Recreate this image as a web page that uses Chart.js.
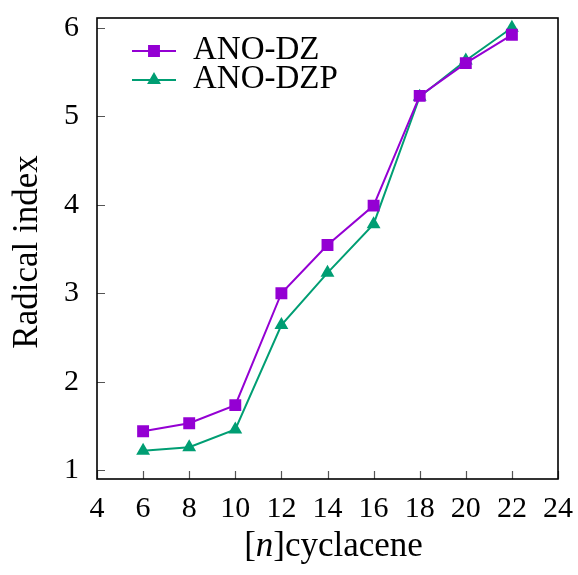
<!DOCTYPE html>
<html>
<head>
<meta charset="utf-8">
<script src="https://cdn.jsdelivr.net/npm/chart.js@4.4.0/dist/chart.umd.min.js"></script>
<style>
  html, body { margin: 0; padding: 0; background: #fff; }
  #wrap { width: 578px; height: 575px; }
</style>
</head>
<body>
<div id="wrap"><canvas id="radicalChart" width="578" height="575"></canvas></div>
<script>
var ringSize = [6, 8, 10, 12, 14, 16, 18, 20, 22];
var anoDZ = [1.44, 1.53, 1.735, 3.0, 3.545, 3.99, 5.23, 5.6, 5.92];
var anoDZP = [1.22, 1.26, 1.46, 2.64, 3.23, 3.78, 5.22, 5.63, 6.0];
var xTicks = [4, 6, 8, 10, 12, 14, 16, 18, 20, 22, 24];
var yTicks = [1, 2, 3, 4, 5, 6];

var serif = "'Liberation Serif', 'DejaVu Serif', serif";

function toPoints(xs, ys) {
  var out = [];
  for (var i in xs) {
    out.push({ x: xs[i], y: ys[i] });
  }
  return out;
}

// frame, inward ticks, legend and axis titles
var decorations = {
  id: "decorations",
  afterDraw: function (chart) {
    var ctx = chart.ctx;
    var a = chart.chartArea;
    var xs = chart.scales.x;
    var ys = chart.scales.y;
    ctx.save();

    ctx.strokeStyle = "#555";
    ctx.lineWidth = 1.2;
    ctx.beginPath();
    xTicks.forEach(function (t) {
      var px = Math.round(xs.getPixelForValue(t)) + 0.5;
      ctx.moveTo(px, a.bottom);
      ctx.lineTo(px, a.bottom - 8);
    });
    yTicks.forEach(function (t) {
      var py = Math.round(ys.getPixelForValue(t)) + 0.5;
      ctx.moveTo(a.left, py);
      ctx.lineTo(a.left + 8, py);
    });
    ctx.stroke();

    ctx.strokeStyle = "#000";
    ctx.lineWidth = 1.6;
    ctx.strokeRect(a.left, a.top, a.right - a.left, a.bottom - a.top);

    // legend
    var rows = [51, 80];
    chart.data.datasets.forEach(function (ds, i) {
      var y = rows[i];
      ctx.strokeStyle = ds.borderColor;
      ctx.lineWidth = 2;
      ctx.beginPath();
      ctx.moveTo(132, y);
      ctx.lineTo(176, y);
      ctx.stroke();
      ctx.fillStyle = ds.pointBackgroundColor;
      ctx.strokeStyle = ds.pointBackgroundColor;
      Chart.helpers.drawPoint(ctx, { pointStyle: ds.pointStyle, radius: ds.pointRadius, rotation: 0, borderWidth: 1 }, 154, y);
      ctx.fillStyle = "#000";
      ctx.font = "33px " + serif;
      ctx.textAlign = "left";
      ctx.textBaseline = "alphabetic";
      ctx.fillText(ds.label, 193, y + 8);
    });

    // x title: [n]cyclacene with italic n
    ctx.fillStyle = "#000";
    ctx.textBaseline = "alphabetic";
    var normal = "35px " + serif;
    var italic = "italic 35px " + serif;
    var parts = [["[", normal], ["n", italic], ["]cyclacene", normal]];
    var total = 0;
    parts.forEach(function (p) { ctx.font = p[1]; total += ctx.measureText(p[0]).width; });
    var x = (a.left + a.right) / 2 - total / 2 + 6;
    ctx.textAlign = "left";
    parts.forEach(function (p) {
      ctx.font = p[1];
      ctx.fillText(p[0], x, 556);
      x += ctx.measureText(p[0]).width;
    });

    // y title
    ctx.translate(37, 252);
    ctx.rotate(-Math.PI / 2);
    ctx.font = "35px " + serif;
    ctx.textAlign = "center";
    ctx.textBaseline = "alphabetic";
    ctx.fillText("Radical index", 0, 0);

    ctx.restore();
  }
};

var ctx = document.getElementById("radicalChart");

var myLineChart = new Chart(ctx, {
  type: "line",
  data: {
    datasets: [
      {
        label: "ANO-DZ",
        data: toPoints(ringSize, anoDZ),
        borderColor: "#9400d3",
        backgroundColor: "#9400d3",
        pointBackgroundColor: "#9400d3",
        pointBorderColor: "#9400d3",
        pointStyle: "rect",
        pointRadius: 7,
        borderWidth: 2,
        tension: 0,
      },
      {
        label: "ANO-DZP",
        data: toPoints(ringSize, anoDZP),
        borderColor: "#009e73",
        backgroundColor: "#009e73",
        pointBackgroundColor: "#009e73",
        pointBorderColor: "#009e73",
        pointStyle: "triangle",
        pointRadius: 6,
        borderWidth: 2,
        tension: 0,
      },
    ],
  },
  options: {
    responsive: false,
    animation: false,
    layout: { padding: { top: 18, right: 20, left: 0, bottom: 0 } },
    plugins: {
      legend: { display: false },
      tooltip: { enabled: false },
    },
    scales: {
      x: {
        type: "linear",
        min: 4,
        max: 24,
        afterBuildTicks: function (s) { s.ticks = xTicks.map(function (v) { return { value: v }; }); },
        afterFit: function (s) { s.height = 96; s.paddingLeft = 0; s.paddingRight = 0; },
        grid: { display: false, drawTicks: false },
        border: { display: false },
        ticks: { color: "#000", padding: 12, font: { family: serif, size: 30 }, maxRotation: 0 },
      },
      y: {
        type: "linear",
        min: 0.9,
        max: 6.11,
        afterBuildTicks: function (s) { s.ticks = yTicks.map(function (v) { return { value: v }; }); },
        afterFit: function (s) { s.width = 97; s.paddingTop = 0; s.paddingBottom = 0; },
        grid: { display: false, drawTicks: false },
        border: { display: false },
        ticks: { color: "#000", padding: 18, font: { family: serif, size: 30 } },
      },
    },
  },
  plugins: [decorations],
});
</script>
</body>
</html>
